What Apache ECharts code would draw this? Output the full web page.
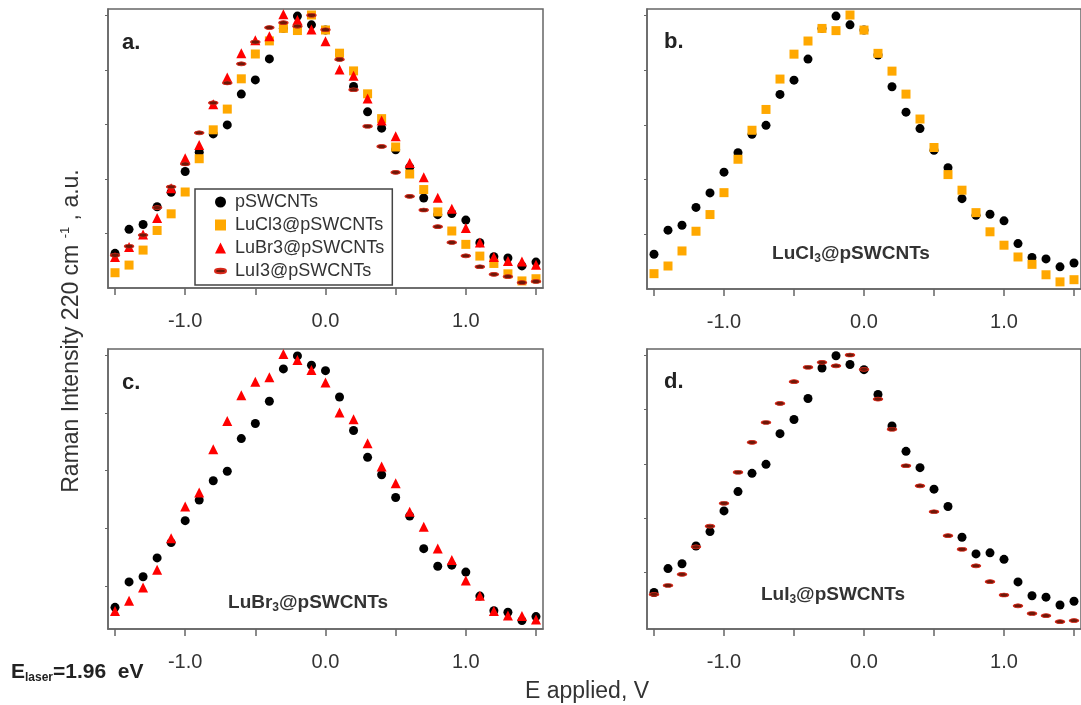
<!DOCTYPE html>
<html>
<head>
<meta charset="utf-8">
<script src="https://cdn.jsdelivr.net/npm/echarts@6/dist/echarts.min.js"></script>
<style>
html,body{margin:0;padding:0;background:#fff;}
#chart{width:1081px;height:705px;}
</style>
</head>
<body>
<div id="chart"></div>
<script>
// ---- data (applied potential, V) ----
const potential = [-1.5,-1.4,-1.3,-1.2,-1.1,-1.0,-0.9,-0.8,-0.7,-0.6,-0.5,-0.4,-0.3,-0.2,-0.1,0.0,0.1,0.2,0.3,0.4,0.5,0.6,0.7,0.8,0.9,1.0,1.1,1.2,1.3,1.4,1.5];
// Raman intensity 220 cm-1 (a.u.)
const pSWCNTs = [12.7,21.5,23.3,29.8,35.1,42.7,49.8,56.5,59.8,71.1,76.3,84.0,95.2,99.7,96.5,94.6,85.5,73.9,64.6,58.6,50.7,44.3,33.0,26.9,27.3,24.9,16.6,11.5,11.0,8.1,9.5];
const LuCl3 = [5.6,8.4,13.9,21.1,27.2,35.2,47.4,58.0,65.6,76.7,85.8,90.6,95.2,94.4,100.1,94.6,86.1,79.6,71.2,62.1,51.7,41.8,36.1,27.9,20.9,16.0,11.7,9.0,5.2,2.6,3.4];
const LuBr3 = [11.4,15.0,19.6,25.7,36.6,47.6,52.4,67.4,77.2,86.1,90.8,92.3,100.4,98.3,94.8,90.5,80.1,77.8,69.5,61.4,55.6,45.8,40.6,33.1,29.1,22.0,16.7,11.4,9.9,9.7,8.5];
const LuI3 = [12.0,15.3,19.4,29.5,37.1,45.5,56.9,67.9,75.2,82.2,90.2,95.5,97.3,96.0,100.0,94.7,83.8,72.7,59.3,51.9,42.4,33.6,28.6,22.5,16.7,11.8,7.8,5.0,4.2,2.0,2.4];
const seriesNames = ['pSWCNTs','LuCl3@pSWCNTs','LuBr3@pSWCNTs','LuI3@pSWCNTs'];
const xTickValues = [-1.5,-1.0,-0.5,0.0,0.5,1.0,1.5];
const xLabelValues = [-1.0,0.0,1.0];
const yTickValues = [20,40,60,80,100];
const panelLetters = ['a.','b.','c.','d.'];
// y ranges of each panel (a.u.)
const yRanges = [[0,102.3],[0,102.3],[5.2,102.1],[-0.7,102.2]];

const FONT = "'Liberation Sans', Arial, sans-serif";
const pair = (ys) => potential.map((x,i)=>[x, ys[i]]);

const styles = {
  'pSWCNTs': {symbol:'circle', symbolSize:9, itemStyle:{color:'#000', opacity:1}},
  'LuCl3@pSWCNTs': {symbol:'rect', symbolSize:9, itemStyle:{color:'#FFA800', opacity:1}},
  'LuBr3@pSWCNTs': {symbol:'triangle', symbolSize:10, itemStyle:{color:'#FF0000', opacity:1}},
  'LuI3@pSWCNTs': {symbol:'circle', symbolSize:[9,4], itemStyle:{color:'#6E1808', borderColor:'#D8281A', borderWidth:1, opacity:1}}
};
const dataByName = {
  'pSWCNTs': pSWCNTs, 'LuCl3@pSWCNTs': LuCl3, 'LuBr3@pSWCNTs': LuBr3, 'LuI3@pSWCNTs': LuI3
};
const panelSeries = [
  seriesNames,
  ['pSWCNTs','LuCl3@pSWCNTs'],
  ['pSWCNTs','LuBr3@pSWCNTs'],
  ['pSWCNTs','LuI3@pSWCNTs']
];
const grids = [
  {left:108, top:9, width:435, height:279},
  {left:647, top:9, width:437, height:280},
  {left:108, top:349, width:435, height:280},
  {left:647, top:349, width:437, height:280}
];

const option = {
  backgroundColor:'#fff',
  animation:false,
  grid: grids.map(g=>Object.assign({show:true, borderColor:'#666', borderWidth:1.5, backgroundColor:'transparent'}, g)),
  xAxis: grids.map((g,i)=>({
    gridIndex:i, type:'value', min:-1.55, max:1.55,
    axisLine:{show:true, onZero:false, lineStyle:{color:'#666', width:1.5}},
    axisTick:{show:true, inside:false, length:7, lineStyle:{color:'#666', width:1.5}, customValues:xTickValues},
    axisLabel:{show:true, margin:23, fontSize:20, color:'#333', fontFamily:FONT, customValues:xLabelValues,
      formatter:(v)=>Number(v).toFixed(1)},
    splitLine:{show:false}
  })),
  yAxis: grids.map((g,i)=>({
    gridIndex:i, type:'value', min:yRanges[i][0], max:yRanges[i][1],
    axisLine:{show:true, onZero:false, lineStyle:{color:'#666', width:1.5}},
    axisTick:{show:true, inside:false, length:3, lineStyle:{color:'#666', width:1}, customValues:yTickValues},
    axisLabel:{show:false, customValues:yTickValues},
    splitLine:{show:false}
  })),
  legend: {
    data: seriesNames.map(n=>({name:n, icon: n==='LuI3@pSWCNTs' ? 'path://M0,2 A5,2 0 1,1 10,2 A5,2 0 1,1 0,2 Z' : (n==='pSWCNTs'?'circle':(n==='LuCl3@pSWCNTs'?'rect':'triangle'))})),
    orient:'vertical', left:195, top:189,
    itemWidth:11, itemHeight:11, itemGap:5,
    padding:[4,8,5,19],
    borderColor:'#444', borderWidth:1.5, backgroundColor:'#fff',
    selectedMode:false,
    textStyle:{fontSize:18, fontFamily:FONT, color:'#333', lineHeight:18, padding:[0,0,0,4]}
  },
  series: [],
  graphic: []
};

panelSeries.forEach((names, p)=>{
  names.forEach(n=>{
    option.series.push(Object.assign({
      type:'scatter', name:n, xAxisIndex:p, yAxisIndex:p, data: pair(dataByName[n]), z:2
    }, styles[n]));
  });
});

const letterPos = [[122,43],[664,42],[122,383],[664,382]];
panelLetters.forEach((t,i)=>{
  option.graphic.push({type:'text', x:letterPos[i][0], y:letterPos[i][1], z:10,
    style:{text:t, font:`bold 22px ${FONT}`, fill:'#222', verticalAlign:'middle', textAlign:'left'}});
});
const innerLabels = [
  {t:'LuCl{s|3}@pSWCNTs', x:851, y:254},
  {t:'LuBr{s|3}@pSWCNTs', x:308, y:603},
  {t:'LuI{s|3}@pSWCNTs', x:833, y:595}
];
innerLabels.forEach(l=>{
  option.graphic.push({type:'text', x:l.x, y:l.y, z:10,
    style:{text:l.t, fontSize:19, fontWeight:'bold', fontFamily:FONT, fill:'#333', align:'center', verticalAlign:'middle',
      lineHeight:22,
      rich:{s:{fontSize:12, fontWeight:'bold', fontFamily:FONT, fill:'#333', lineHeight:14, verticalAlign:'bottom'}}}});
});
// y axis title
option.graphic.push({type:'text', x:72, y:331, rotation:Math.PI/2, z:10,
  style:{text:'Raman Intensity 220 cm {sup|-1} , a.u.', fontSize:23, fontFamily:FONT, fill:'#333', align:'center', verticalAlign:'middle',
    lineHeight:26,
    rich:{sup:{fontSize:13, fontFamily:FONT, fill:'#333', lineHeight:13, verticalAlign:'top'}}}});
// x axis title
option.graphic.push({type:'text', x:587, y:692, z:10,
  style:{text:'E applied, V', fontSize:23, fontFamily:FONT, fill:'#333', align:'center', verticalAlign:'middle'}});
// laser energy
option.graphic.push({type:'text', x:11, y:672, z:10,
  style:{text:'E{sub|laser}=1.96  eV', fontSize:21, fontWeight:'bold', fontFamily:FONT, fill:'#222', align:'left', verticalAlign:'middle',
    lineHeight:24,
    rich:{sub:{fontSize:12, fontWeight:'bold', fontFamily:FONT, fill:'#222', lineHeight:12, verticalAlign:'bottom'}}}});

const chart = echarts.init(document.getElementById('chart'), null, {renderer:'canvas'});
chart.setOption(option);
</script>
</body>
</html>
